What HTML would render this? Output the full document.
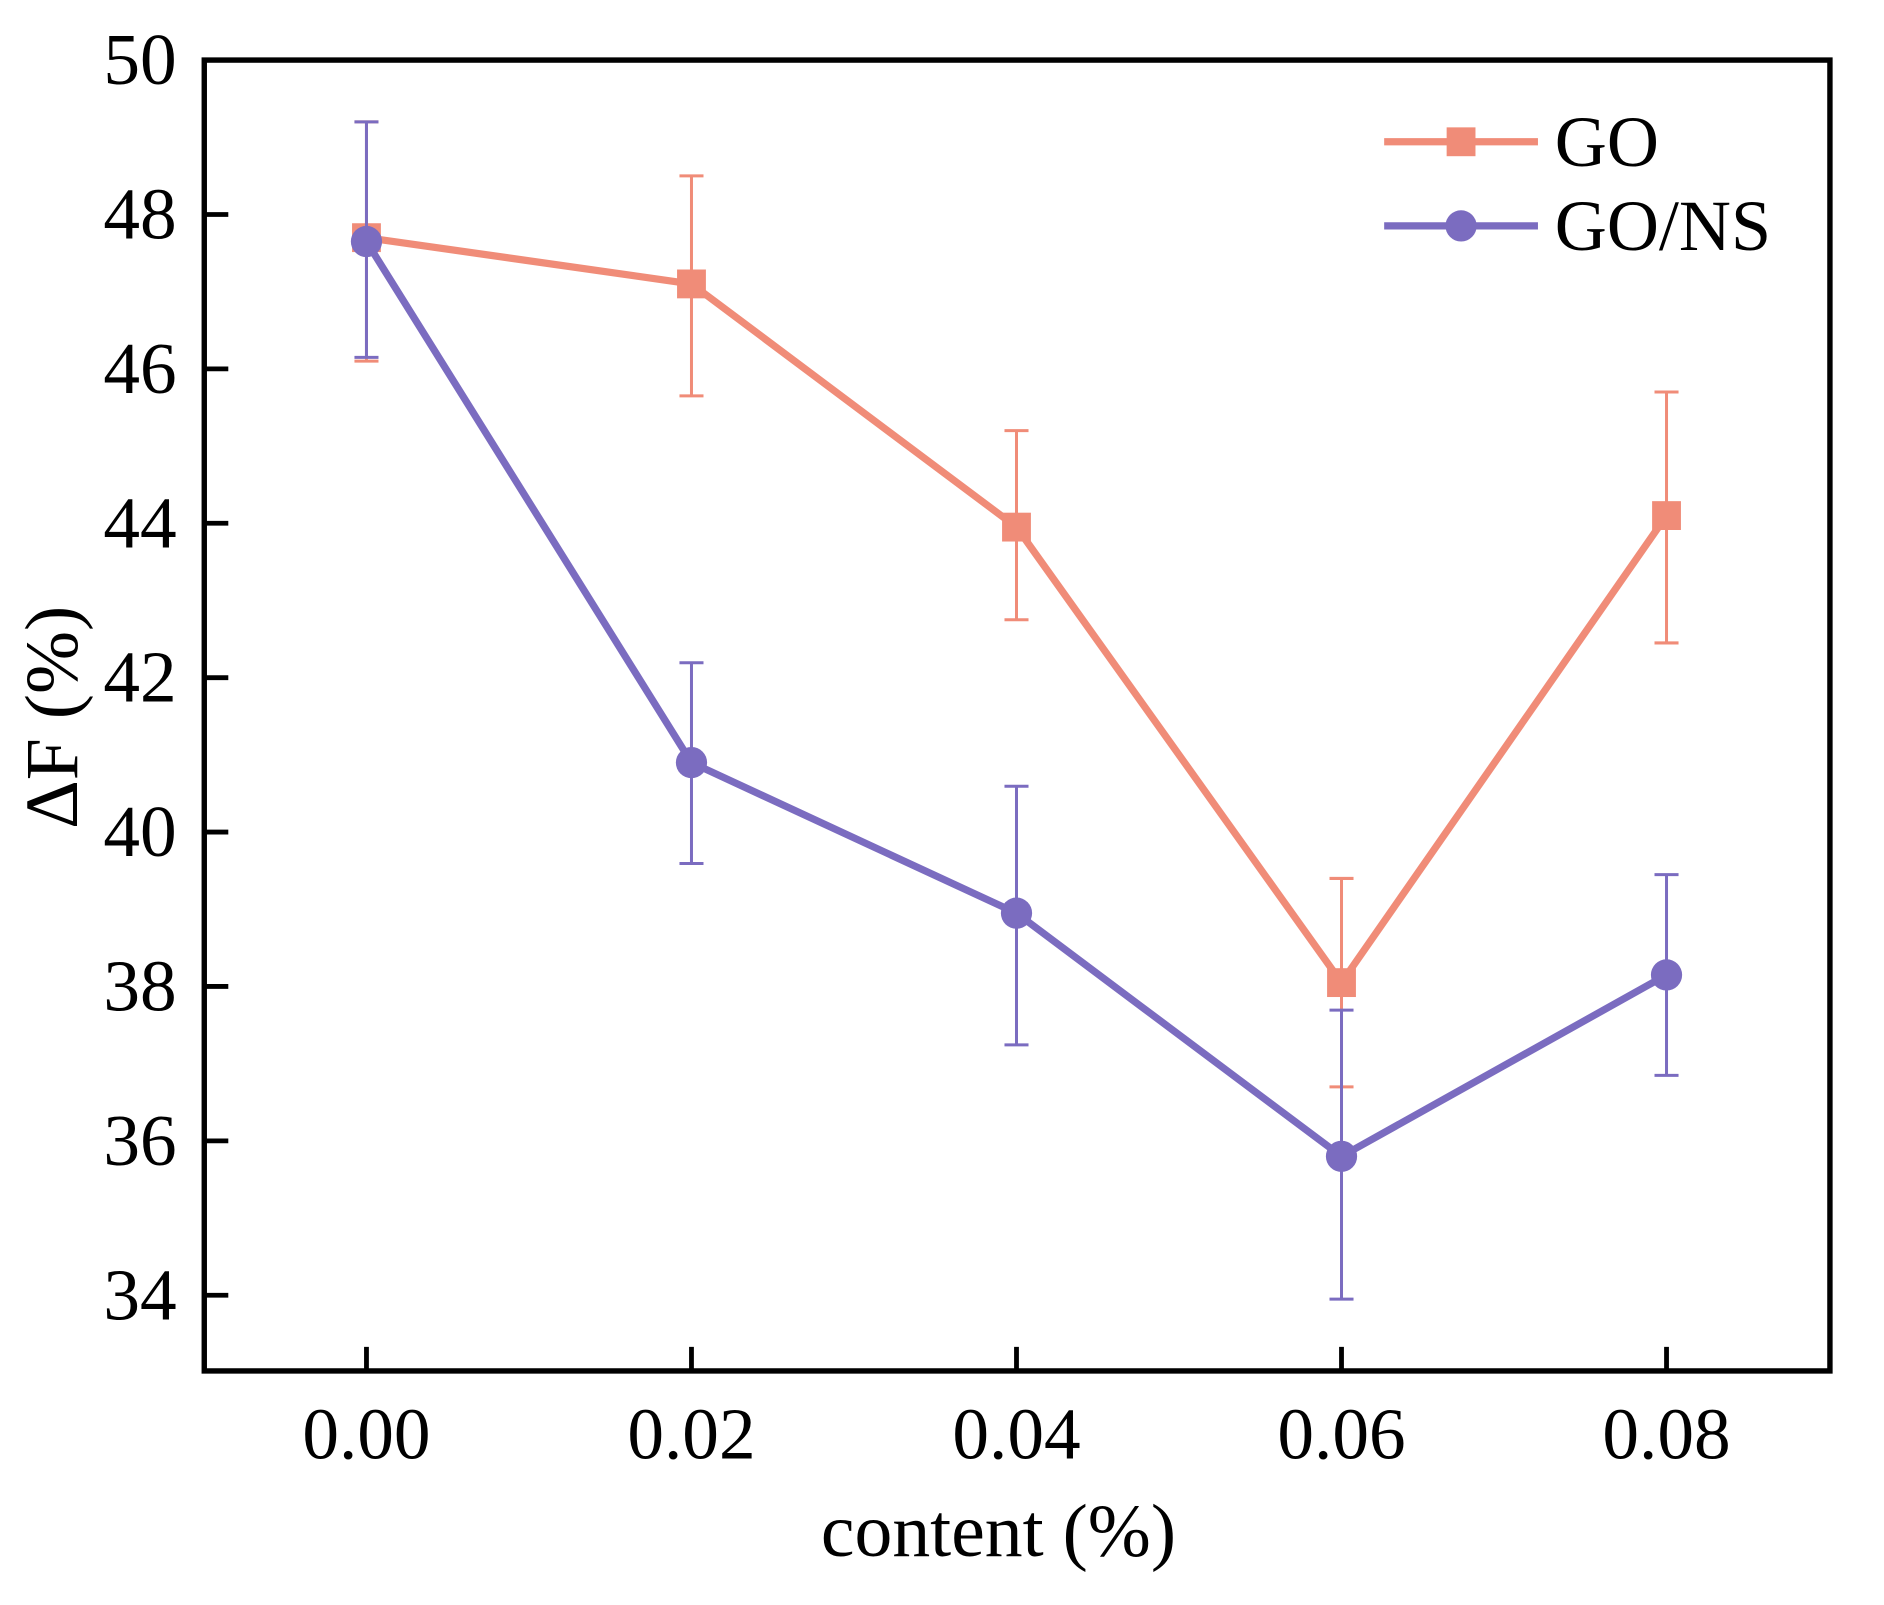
<!DOCTYPE html>
<html><head><style>html,body{margin:0;padding:0;background:#fff}svg{display:block}</style></head>
<body>
<svg width="1884" height="1605" viewBox="0 0 1568 1335.8" xmlns="http://www.w3.org/2000/svg" font-family="'Liberation Serif', serif">
<rect width="1568" height="1335.8" fill="#fff"/>
<g stroke="#000" stroke-width="4" fill="none">
<rect x="170" y="50" width="1353" height="1091" stroke-width="4.5"/>
<path d="M305 1141v-20M575.5 1141v-20M846 1141v-20M1116.5 1141v-20M1387 1141v-20"/>
<path d="M170 178.5h20M170 307h20M170 435.5h20M170 564h20M170 692.5h20M170 821h20M170 949.5h20M170 1078h20"/>
</g>
<g font-size="61" text-anchor="end" fill="#000">
<text x="147" y="70">50</text><text x="147" y="198.5">48</text><text x="147" y="327">46</text><text x="147" y="455.5">44</text><text x="147" y="584">42</text><text x="147" y="712.5">40</text><text x="147" y="841">38</text><text x="147" y="969.5">36</text><text x="147" y="1098">34</text>
</g>
<g font-size="61" text-anchor="middle" fill="#000">
<text x="305" y="1214">0.00</text><text x="575.5" y="1214">0.02</text><text x="846" y="1214">0.04</text><text x="1116.5" y="1214">0.06</text><text x="1387" y="1214">0.08</text>
<text x="831" y="1295" font-size="63">content (%)</text>
<text transform="translate(64,597) rotate(-90)" font-size="63">ΔF (%)</text>
</g>
<!-- GO -->
<g stroke="#F08C78" stroke-width="2.5" fill="none">
<path d="M305 101.4V300.6M295 101.4h20M295 300.6h20"/>
<path d="M575.5 146.4V329.5M565.5 146.4h20M565.5 329.5h20"/>
<path d="M846 358.4V515.8M836 358.4h20M836 515.8h20"/>
<path d="M1116.5 731.1V904.6M1106.5 731.1h20M1106.5 904.6h20"/>
<path d="M1387 326.3V535.1M1377 326.3h20M1377 535.1h20"/>
</g>
<polyline points="305,197.8 575.5,236.3 846,438.7 1116.5,817.8 1387,429.1" fill="none" stroke="#F08C78" stroke-width="6"/>
<g fill="#F08C78">
<rect x="293" y="185.8" width="24" height="24"/><rect x="563.5" y="224.3" width="24" height="24"/><rect x="834" y="426.7" width="24" height="24"/><rect x="1104.5" y="805.8" width="24" height="24"/><rect x="1375" y="417.1" width="24" height="24"/>
</g>
<!-- GO/NS -->
<g stroke="#7B6CC0" stroke-width="2.5" fill="none">
<path d="M305 101.4V297.4M295 101.4h20M295 297.4h20"/>
<path d="M575.5 551.6V718.7M565.5 551.6h20M565.5 718.7h20"/>
<path d="M846 654.4V869.6M836 654.4h20M836 869.6h20"/>
<path d="M1116.5 840.7V1081.2M1106.5 840.7h20M1106.5 1081.2h20"/>
<path d="M1387 727.9V895M1377 727.9h20M1377 895h20"/>
</g>
<polyline points="305,201 575.5,634.7 846,760 1116.5,962.4 1387,811.4" fill="none" stroke="#7B6CC0" stroke-width="6"/>
<g fill="#7B6CC0">
<circle cx="305" cy="201" r="13"/><circle cx="575.5" cy="634.7" r="13"/><circle cx="846" cy="760" r="13"/><circle cx="1116.5" cy="962.4" r="13"/><circle cx="1387" cy="811.4" r="13"/>
</g>
<!-- legend -->
<line x1="1152" y1="118" x2="1280" y2="118" stroke="#F08C78" stroke-width="6"/>
<rect x="1204" y="106" width="24" height="24" fill="#F08C78"/>
<line x1="1152" y1="188" x2="1280" y2="188" stroke="#7B6CC0" stroke-width="6"/>
<circle cx="1216" cy="188" r="13" fill="#7B6CC0"/>
<g font-size="60" fill="#000"><text x="1294" y="138">GO</text><text x="1294" y="208">GO/NS</text></g>
</svg>
</body></html>
